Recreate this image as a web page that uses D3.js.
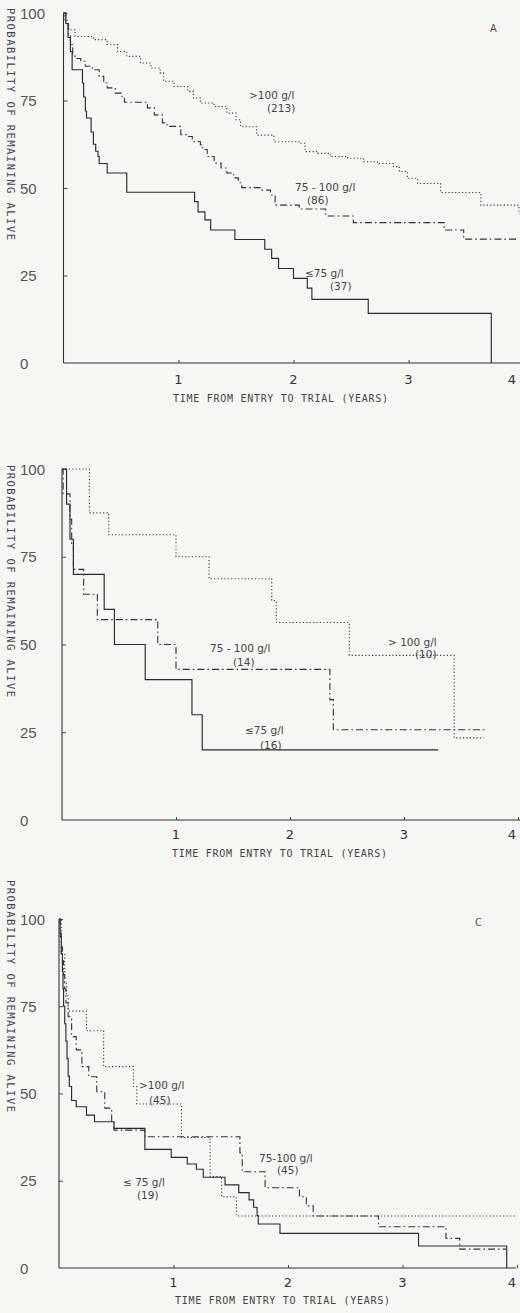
<!DOCTYPE html>
<html><head><meta charset="utf-8">
<script src="https://cdn.jsdelivr.net/npm/d3@7"></script>
<style>html,body{margin:0;padding:0;background:#f6f6f3;} svg{display:block;}</style>
</head><body><svg id="c" width="520" height="1313"></svg>
<script>
// ---------- tick labels & titles ----------
const yTickValues = [0, 25, 50, 75, 100];
const xTickValues = [1, 2, 3, 4];
const xTitleText = "TIME FROM ENTRY TO TRIAL (YEARS)";
const yTitleText = "PROBABILITY OF REMAINING ALIVE";

// ---------- Panel A (years, % alive) ----------
const aLowT  = [0, 0.02, 0.04, 0.06, 0.075, 0.165, 0.175, 0.19, 0.20, 0.24, 0.26, 0.28, 0.30, 0.31, 0.38, 0.55, 1.14, 1.17, 1.23, 1.28, 1.49, 1.75, 1.81, 1.87, 2.00, 2.12, 2.16, 2.65, 3.72];
const aLowS  = [100, 97, 93, 89, 83.8, 80, 76, 72, 70, 66, 62.5, 60.5, 59, 57, 54.3, 48.8, 46.1, 43.2, 40.9, 38, 35.3, 32.5, 29.9, 27, 24.2, 21.4, 18.2, 14.2, 0];
const aMidT  = [0, 0.02, 0.04, 0.06, 0.08, 0.10, 0.15, 0.19, 0.25, 0.31, 0.35, 0.38, 0.45, 0.51, 0.53, 0.73, 0.79, 0.86, 0.90, 1.02, 1.07, 1.12, 1.19, 1.21, 1.25, 1.31, 1.37, 1.42, 1.48, 1.52, 1.55, 1.71, 1.80, 1.84, 2.05, 2.28, 2.52, 3.31, 3.48, 3.96];
const aMidS  = [100, 97, 94, 91, 88, 87, 86.2, 84.8, 83.8, 81.9, 80, 78.6, 77.1, 75.7, 74.5, 72.9, 70.9, 68.6, 67.6, 65.2, 64.7, 63.3, 62.4, 61, 59, 57.1, 55.7, 54.3, 52.9, 51.5, 50.1, 49.4, 48, 45.1, 44, 42, 40.1, 38, 35.4, 35.4];
const aHighT = [0, 0.01, 0.03, 0.046, 0.10, 0.26, 0.38, 0.47, 0.55, 0.67, 0.76, 0.84, 0.87, 0.96, 1.08, 1.13, 1.19, 1.31, 1.42, 1.50, 1.54, 1.68, 1.83, 2.05, 2.10, 2.21, 2.32, 2.47, 2.61, 2.73, 2.87, 2.92, 2.99, 3.08, 3.28, 3.63, 3.96, 3.97];
const aHighS = [100, 98, 96.5, 95.2, 93.3, 92.4, 91, 89, 87.6, 85.7, 84.3, 82.9, 80.5, 79, 77.6, 75.7, 74.3, 73.3, 71.4, 69.5, 67.5, 65.1, 63.2, 62.8, 60.4, 59.9, 59, 58.5, 57.5, 57, 56.1, 54.7, 52.8, 51.3, 48.7, 45.1, 42.8, 42.8];
const aLabels = [">100 g/l", "(213)", "75 - 100 g/l", "(86)", "\u226475 g/l", "(37)"];
const aLetter = "A";

// ---------- Panel B ----------
const bLowT  = [0, 0.04, 0.07, 0.10, 0.37, 0.46, 0.73, 1.14, 1.23, 3.30];
const bLowS  = [100, 90, 80, 70, 60, 50, 40, 30, 20, 20];
const bMidT  = [0, 0.01, 0.07, 0.085, 0.10, 0.19, 0.31, 0.84, 1.00, 2.35, 2.38, 3.73];
const bMidS  = [100, 92.9, 85.7, 78.6, 71.4, 64.3, 57.1, 50, 42.9, 34.3, 25.7, 25.7];
const bHighT = [0, 0.24, 0.41, 1.00, 1.29, 1.84, 1.88, 2.52, 3.44, 3.70];
const bHighS = [100, 87.5, 81.25, 75, 68.75, 62.5, 56.25, 46.9, 23.4, 23.4];
const bLabels = ["> 100 g/l", "(10)", "75 - 100 g/l", "(14)", "\u226475 g/l", "(16)"];
const bLetter = "";

// ---------- Panel C ----------
const cLowT  = [0, 0.01, 0.02, 0.03, 0.035, 0.04, 0.05, 0.06, 0.07, 0.08, 0.09, 0.11, 0.15, 0.24, 0.31, 0.48, 0.75, 0.98, 1.12, 1.20, 1.26, 1.45, 1.57, 1.66, 1.70, 1.73, 1.74, 1.93, 3.14, 3.91];
const cLowS  = [100, 95, 90, 85, 80, 75, 70, 65, 60, 55, 52, 48, 46.2, 43.8, 41.9, 40, 34, 31.7, 29.8, 28.3, 26, 23.8, 21.6, 19.5, 17.4, 15, 12.6, 9.9, 6.3, 0];
const cMidT  = [0, 0.01, 0.02, 0.03, 0.04, 0.05, 0.06, 0.08, 0.11, 0.15, 0.20, 0.26, 0.33, 0.40, 0.46, 0.48, 0.75, 1.58, 1.60, 1.80, 2.10, 2.16, 2.22, 2.79, 3.38, 3.50, 3.91];
const cMidS  = [100, 96, 92, 88, 84, 80, 76, 72, 66.3, 62.5, 57.7, 54.8, 50.5, 45.8, 41.9, 39.5, 37.6, 33, 27.6, 23, 20.4, 17.8, 14.9, 11.8, 8.5, 5.4, 5.4];
const cHighT = [0, 0.02, 0.05, 0.065, 0.08, 0.24, 0.39, 0.65, 0.68, 1.07, 1.32, 1.42, 1.55, 4.0];
const cHighS = [100, 90, 82, 78, 73.6, 68, 57.7, 52, 47, 37.4, 26.2, 20.4, 14.9, 14.9];
const cLabels = [">100 g/l", "(45)", "75-100 g/l", "(45)", "\u2264 75 g/l", "(19)"];
const cLetter = "C";

// ---------- layout (pixel geometry only) ----------
const panels = [
  { x0: 63.5, xs: 115, y0: 363, y100: 13, axisEnd: 520, yTitleTop: 8, xTitleX: 173, xTitleY: 398, tickLabY: 379,
    series: [[aLowT, aLowS], [aMidT, aMidS], [aHighT, aHighS]], labels: aLabels,
    labPos: [[249,95],[267,108],[295,187],[307,200],[305,273],[330,286]], letter: aLetter, letterPos: [490, 28] },
  { x0: 62, xs: 114, y0: 820, y100: 469, axisEnd: 520, yTitleTop: 465, xTitleX: 172, xTitleY: 853, tickLabY: 834,
    series: [[bLowT, bLowS], [bMidT, bMidS], [bHighT, bHighS]], labels: bLabels,
    labPos: [[388,642],[415,654],[210,648],[233,662],[245,730],[260,745]], letter: bLetter, letterPos: [0, 0] },
  { x0: 59, xs: 114.5, y0: 1268, y100: 919, axisEnd: 516, yTitleTop: 880, xTitleX: 175, xTitleY: 1300, tickLabY: 1282,
    series: [[cLowT, cLowS], [cMidT, cMidS], [cHighT, cHighS]], labels: cLabels,
    labPos: [[139,1085],[149,1100],[259,1158],[277,1170],[123,1182],[137,1195]], letter: cLetter, letterPos: [475, 922] }
];
const seriesStyle = [
  { dash: null, w: 1.15, c: "#2b2b2b" },
  { dash: "7,3,1.6,3", w: 1.1, c: "#333" },
  { dash: "1.2,2.2", w: 1.1, c: "#3a3a3a" }
];

const svg = d3.select("#c");
svg.append("rect").attr("width", 520).attr("height", 1313).attr("fill", "#f6f6f3");

panels.forEach(p => {
  const x = d3.scaleLinear().domain([0, 4]).range([p.x0, p.x0 + 4 * p.xs]);
  const y = d3.scaleLinear().domain([0, 100]).range([p.y0, p.y100]);
  const g = svg.append("g");

  // axis lines
  g.append("line").attr("x1", x(0)).attr("x2", p.axisEnd).attr("y1", y(0)).attr("y2", y(0))
    .attr("stroke", "#333").attr("stroke-width", 1.1);
  g.append("line").attr("x1", x(0)).attr("x2", x(0)).attr("y1", y(0)).attr("y2", y(100))
    .attr("stroke", "#333").attr("stroke-width", 1.1);

  // inward ticks via d3 axes
  const ya = g.append("g").attr("transform", `translate(${x(0)},0)`)
    .call(d3.axisRight(y).tickValues([25, 50, 75, 100]).tickSize(4).tickFormat(""));
  ya.select(".domain").remove();
  ya.selectAll("line").attr("stroke", "#444");
  const xa = g.append("g").attr("transform", `translate(0,${y(0)})`)
    .call(d3.axisTop(x).tickValues(xTickValues).tickSize(3).tickFormat(""));
  xa.select(".domain").remove();
  xa.selectAll("line").attr("stroke", "#444");

  // y tick labels
  g.selectAll(".yl").data(yTickValues).enter().append("text")
    .attr("x", 20).attr("y", d => y(d)).attr("dominant-baseline", "central")
    .attr("font-family", "Liberation Sans, Arial, sans-serif").attr("font-size", 15)
    .attr("fill", "#555").text(d => d);
  // x tick labels (kept inside the page)
  g.selectAll(".xl").data(xTickValues).enter().append("text")
    .attr("x", d => Math.min(x(d), 512)).attr("y", p.tickLabY).attr("text-anchor", "middle").attr("dominant-baseline", "central")
    .attr("font-family", "DejaVu Sans, sans-serif").attr("font-size", 13).attr("fill", "#333").text(d => d);

  // titles
  g.append("text").attr("transform", `translate(11,${p.yTitleTop}) rotate(90)`)
    .attr("dominant-baseline", "central").attr("font-family", "DejaVu Sans Mono, monospace")
    .attr("font-size", 10.5).attr("fill", "#444").attr("textLength", 232).attr("lengthAdjust", "spacing")
    .text(yTitleText);
  g.append("text").attr("x", p.xTitleX).attr("y", p.xTitleY).attr("dominant-baseline", "central")
    .attr("font-family", "DejaVu Sans Mono, monospace").attr("font-size", 10).attr("fill", "#444")
    .attr("textLength", 215).attr("lengthAdjust", "spacing").text(xTitleText);

  // curves
  const line = d3.line().x(d => x(d[0])).y(d => y(d[1])).curve(d3.curveStepAfter);
  p.series.forEach((s, i) => {
    const st = seriesStyle[i];
    g.append("path").datum(d3.zip(s[0], s[1])).attr("d", line)
      .attr("fill", "none").attr("stroke", st.c).attr("stroke-width", st.w)
      .attr("stroke-dasharray", st.dash);
  });

  // series labels
  p.labels.forEach((t, i) => {
    g.append("text").attr("x", p.labPos[i][0]).attr("y", p.labPos[i][1]).attr("dominant-baseline", "central")
      .attr("font-family", "DejaVu Sans, sans-serif").attr("font-size", 10.5).attr("fill", "#444").text(t);
  });
  if (p.letter) {
    g.append("text").attr("x", p.letterPos[0]).attr("y", p.letterPos[1]).attr("dominant-baseline", "central")
      .attr("font-family", "DejaVu Sans, sans-serif").attr("font-size", 10).attr("fill", "#555").text(p.letter);
  }
});
</script></body></html>
